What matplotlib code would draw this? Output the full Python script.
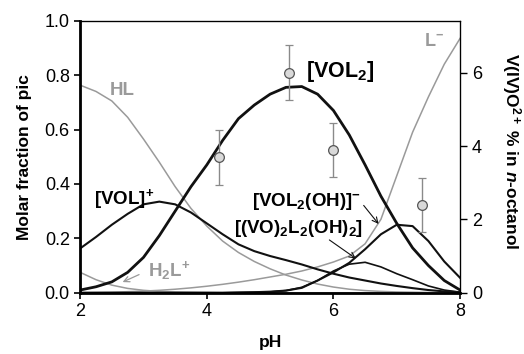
import matplotlib
matplotlib.use("Agg")
import matplotlib.pyplot as plt
import numpy as np

plt.rcParams.update({
    "font.family": ["Liberation Sans", "DejaVu Sans"],
    "mathtext.fontset": "custom",
    "mathtext.rm": "Liberation Sans:bold",
    "mathtext.bf": "Liberation Sans:bold",
    "mathtext.it": "Liberation Sans:bold:italic",
    "mathtext.default": "rm",
})

# species distribution (molar fraction of pic)
ph = [2.0, 2.25, 2.5, 2.75, 3.0, 3.25, 3.5, 3.75, 4.0, 4.25, 4.5, 4.75, 5.0,
      5.25, 5.5, 5.75, 6.0, 6.25, 6.5, 6.75, 7.0, 7.25, 7.5, 7.75, 8.0]
vol2 = [0.010, 0.022, 0.040, 0.075, 0.13, 0.21, 0.30, 0.39, 0.47, 0.56, 0.64, 0.69, 0.73,
        0.755, 0.758, 0.73, 0.67, 0.58, 0.47, 0.355, 0.255, 0.165, 0.10, 0.045, 0.01]
vol = [0.163, 0.205, 0.250, 0.290, 0.325, 0.335, 0.325, 0.295, 0.255, 0.215, 0.178, 0.153, 0.135,
       0.12, 0.104, 0.086, 0.07, 0.056, 0.045, 0.034, 0.025, 0.017, 0.010, 0.005, 0.002]
hl = [0.763, 0.74, 0.705, 0.645, 0.565, 0.48, 0.39, 0.31, 0.245, 0.19, 0.148, 0.115, 0.088,
      0.065, 0.047, 0.032, 0.021, 0.013, 0.008, 0.005, 0.003, 0.002, 0.001, 0.0, 0.0]
h2l = [0.075, 0.048, 0.028, 0.016, 0.009, 0.005, 0.003, 0.002, 0.001, 0.0, 0.0, 0.0, 0.0,
       0.0, 0.0, 0.0, 0.0, 0.0, 0.0, 0.0, 0.0, 0.0, 0.0, 0.0, 0.0]
lig = [0.0, 0.001, 0.002, 0.004, 0.006, 0.009, 0.013, 0.018, 0.024, 0.031, 0.039, 0.048, 0.058,
       0.068, 0.08, 0.095, 0.113, 0.135, 0.18, 0.27, 0.43, 0.59, 0.72, 0.84, 0.935]
vol2oh = [0.0, 0.0, 0.0, 0.0, 0.0, 0.0, 0.0, 0.0, 0.0, 0.0, 0.001, 0.002, 0.004,
          0.008, 0.018, 0.045, 0.075, 0.11, 0.16, 0.215, 0.25, 0.245, 0.19, 0.115, 0.055]
dimer = [0.0, 0.0, 0.0, 0.0, 0.0, 0.0, 0.0, 0.0, 0.0, 0.0, 0.001, 0.002, 0.003,
         0.008, 0.02, 0.045, 0.08, 0.105, 0.112, 0.095, 0.07, 0.048, 0.025, 0.01, 0.002]

# extraction into n-octanol (right axis)
ph_exp = [4.2, 5.3, 6.0, 7.4]
pct_exp = [3.7, 6.0, 3.9, 2.4]
pct_err = [0.75, 0.75, 0.74, 0.73]

GRAY = "#9a9a9a"

fig = plt.figure(figsize=(5.24, 3.54), dpi=100)
ax = fig.add_axes([0.153, 0.173, 0.725, 0.7685])

ax.plot(ph, hl, color=GRAY, lw=1.1)
ax.plot(ph, h2l, color=GRAY, lw=1.1)
ax.plot(ph, lig, color=GRAY, lw=1.1)
ax.plot(ph, vol, color="#111111", lw=1.5)
ax.plot(ph, dimer, color="#111111", lw=1.2)
ax.plot(ph, vol2oh, color="#111111", lw=1.5)
ax.plot(ph, vol2, color="#111111", lw=2.0)

ax.set_xlim(2, 8)
ax.set_ylim(0, 1.0)
ax.set_xticks([2, 4, 6, 8])
ax.set_yticks([0.0, 0.2, 0.4, 0.6, 0.8, 1.0])
ax.set_yticklabels(["0.0", "0.2", "0.4", "0.6", "0.8", "1.0"])
ax.tick_params(labelsize=13, length=4, direction="out", width=1.2)
ax.spines["left"].set_linewidth(2.0)
ax.spines["bottom"].set_linewidth(2.0)
ax.spines["top"].set_linewidth(0.9)
ax.spines["right"].set_linewidth(0.9)
ax.set_xlabel("pH", fontsize=12.5, fontweight="bold")
ax.xaxis.set_label_coords(0.5, -0.155)
ax.set_ylabel("Molar fraction of pic", fontsize=12.5, fontweight="bold")
ax.yaxis.set_label_coords(-0.126, 0.5)

ax2 = ax.twinx()
ax2.set_ylim(0, 7.42)
ax2.set_yticks([0, 2, 4, 6])
ax2.tick_params(labelsize=13, length=5, direction="out", width=1.0)
ax2.errorbar(ph_exp, pct_exp, yerr=pct_err, fmt="o", ms=7, mfc="#d9d9d9", mec="#555555",
             mew=0.9, ecolor="#8a8a8a", elinewidth=1.0, capsize=3, capthick=1.0)
ax2.set_ylabel(r"V(IV)O$^{2+}$ % in $\mathit{n}$-octanol", fontsize=12.5, fontweight="bold",
               rotation=270)
ax2.yaxis.set_label_coords(1.165, 0.52)

# species labels
ax.text(2.66, 0.745, "HL", color=GRAY, fontsize=13.5, fontweight="bold", ha="center", va="center")
ax.text(2.70, 0.345, r"[VOL]$^{+}$", fontsize=13.5, fontweight="bold", ha="center", va="center")
ax.text(3.41, 0.08, r"H$_2$L$^{+}$", color=GRAY, fontsize=13.5, fontweight="bold",
        ha="center", va="center")
ax.annotate("", xy=(2.63, 0.035), xytext=(2.97, 0.071),
            arrowprops=dict(arrowstyle="->", color=GRAY, lw=0.9))
ax.text(6.11, 0.815, r"[VOL$_2$]", fontsize=15.5, fontweight="bold", ha="center", va="center")
ax.text(7.59, 0.925, r"L$^{-}$", color=GRAY, fontsize=13, fontweight="bold", ha="center", va="center")
ax.text(5.57, 0.337, r"[VOL$_2$(OH)]$^{-}$", fontsize=13.5, fontweight="bold",
        ha="center", va="center")
ax.text(5.44, 0.238, r"[(VO)$_2$L$_2$(OH)$_2$]", fontsize=13.5, fontweight="bold",
        ha="center", va="center")
ax.annotate("", xy=(6.74, 0.245), xytext=(6.45, 0.329),
            arrowprops=dict(arrowstyle="->", color="#111111", lw=0.8))
ax.annotate("", xy=(6.39, 0.12), xytext=(5.90, 0.2),
            arrowprops=dict(arrowstyle="->", color="#111111", lw=0.8))

fig.savefig("out.png", dpi=100)
